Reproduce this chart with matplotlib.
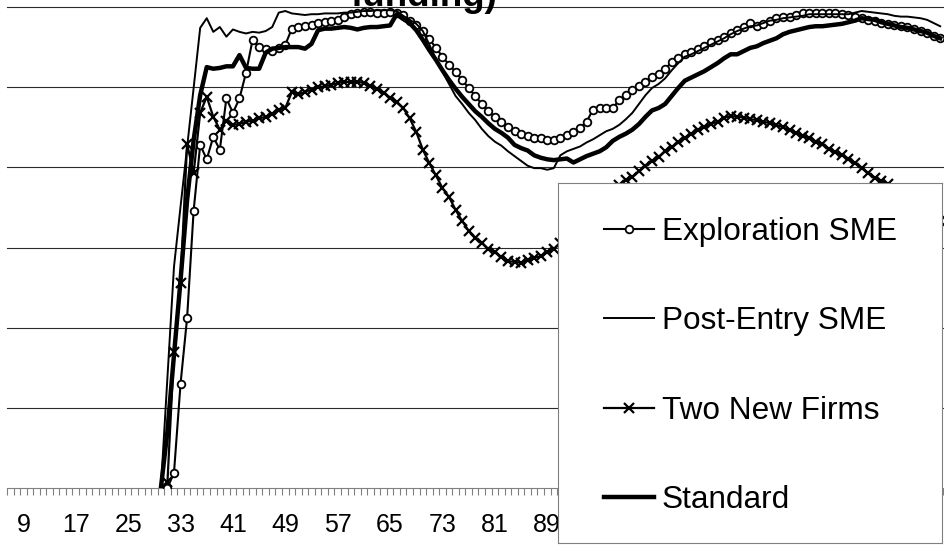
import numpy as np
import matplotlib
matplotlib.use("Agg")
import matplotlib.pyplot as plt

plt.rcParams["font.family"] = ["Liberation Sans", "DejaVu Sans"]

# periods that carry a label on the x axis (every 8th one)
label_periods = list(range(9, 150, 8))

series_names = ["Exploration SME", "Post-Entry SME", "Two New Firms", "Standard"]

# first period of each series, then one value per period
exploration_start = 31
exploration = [
    0, 1.9, 13.0, 21.2, 34.6, 42.8, 41.0, 43.8, 42.2, 48.6,
    46.8, 48.6, 51.8, 55.9, 55.0, 54.8, 54.5, 54.9, 55.3, 57.3,
    57.5, 57.6, 57.7, 58.0, 58.1, 58.2, 58.4, 58.7, 59.1, 59.3,
    59.4, 59.4, 59.3, 59.3, 59.4, 59.2, 59.0, 58.3, 57.8, 57.0,
    56.0, 54.9, 53.8, 52.8, 51.9, 50.9, 49.9, 48.9, 47.9, 47.0,
    46.3, 45.7, 45.0, 44.5, 44.2, 43.9, 43.7, 43.7, 43.4, 43.4,
    43.7, 44.0, 44.4, 44.9, 45.7, 47.2, 47.4, 47.4, 47.4, 48.4,
    49.0, 49.6, 50.1, 50.7, 51.3, 51.7, 52.3, 53.1, 53.6, 54.1,
    54.4, 54.7, 55.1, 55.6, 55.9, 56.3, 56.8, 57.1, 57.5, 58.0,
    57.6, 57.9, 58.3, 58.6, 58.7, 58.8, 59.0, 59.2, 59.3, 59.3,
    59.3, 59.3, 59.2, 59.1, 59.0, 58.8, 58.6, 58.4, 58.3, 58.0,
    57.9, 57.8, 57.6, 57.5, 57.2, 57.0, 56.8, 56.4, 56.1,
]

post_entry_start = 30
post_entry = [
    0, 13.8, 27.6, 35.1, 42.5, 49.9, 57.4, 58.6, 56.9, 57.5,
    56.3, 57.2, 56.9, 56.7, 56.9, 56.8, 57.0, 57.5, 59.3, 59.5,
    59.2, 59.1, 59.0, 59.1, 59.1, 59.2, 59.2, 59.2, 59.3, 59.3,
    59.4, 59.5, 59.5, 59.6, 59.6, 59.6, 59.5, 58.9, 58.4, 57.9,
    57.0, 55.3, 53.5, 51.9, 50.4, 48.9, 47.9, 46.8, 45.9, 44.8,
    43.9, 43.2, 42.7, 42.0, 41.4, 40.8, 40.2, 39.9, 39.9, 39.7,
    39.9, 41.5, 42.0, 42.3, 42.6, 43.1, 43.5, 44.0, 44.5, 44.8,
    45.3, 46.0, 46.8, 47.9, 49.0, 49.9, 50.4, 51.1, 52.1, 53.0,
    53.8, 54.1, 54.5, 54.9, 55.3, 55.7, 56.1, 56.6, 57.0, 57.3,
    57.6, 57.7, 58.0, 58.3, 58.4, 58.6, 58.7, 58.8, 58.9, 59.1,
    59.1, 59.1, 59.1, 59.1, 59.1, 59.1, 59.3, 59.5, 59.4, 59.3,
    59.2, 59.1, 58.9, 58.8, 58.8, 58.7, 58.6, 58.4, 58.0, 57.6,
]

two_firms_start = 31
two_firms = [
    0.7, 17.0, 25.6, 42.9, 39.3, 46.8, 48.8, 46.3, 44.7, 45.8,
    45.3, 45.4, 45.7, 45.8, 46.1, 46.3, 46.7, 47.2, 47.4, 49.4,
    49.1, 49.4, 49.7, 50.0, 50.1, 50.3, 50.5, 50.7, 50.6, 50.7,
    50.5, 50.1, 49.8, 49.3, 48.7, 48.1, 47.4, 46.1, 44.4, 42.2,
    40.5, 39.0, 37.4, 36.3, 34.7, 33.3, 32.1, 31.2, 30.6, 29.8,
    29.4, 28.8, 28.3, 28.2, 28.1, 28.4, 28.7, 28.9, 29.4, 29.8,
    30.6, 31.3, 32.2, 33.1, 34.1, 35.1, 35.9, 36.7, 37.3, 37.8,
    38.4, 38.8, 39.5, 40.2, 40.8, 41.3, 42.0, 42.5, 43.1, 43.7,
    44.2, 44.6, 45.0, 45.4, 45.7, 46.2, 46.4, 46.3, 46.2, 46.0,
    45.9, 45.7, 45.5, 45.3, 45.0, 44.6, 44.3, 43.9, 43.6, 43.2,
    42.9, 42.3, 41.9, 41.5, 41.1, 40.5, 39.9, 39.3, 38.7, 38.3,
    37.9, 37.3, 36.7, 36.0, 35.4, 34.8, 34.3, 33.8, 33.3,
]

standard_start = 30
standard = [
    0, 7.1, 16.6, 25.9, 35.9, 43.4, 49.0, 52.5, 52.3, 52.4,
    52.6, 52.6, 54.0, 52.4, 52.3, 52.3, 54.3, 54.8, 54.9, 55.0,
    55.0, 55.0, 54.8, 55.4, 57.1, 57.3, 57.3, 57.4, 57.5, 57.4,
    57.2, 57.4, 57.5, 57.5, 57.6, 57.7, 59.1, 58.5, 58.0, 57.1,
    55.9, 54.6, 53.4, 52.1, 50.9, 49.8, 48.8, 47.9, 47.0, 46.3,
    45.5, 44.8, 44.3, 43.7, 42.8, 42.4, 42.1, 41.5, 41.2, 41.0,
    40.9, 41.0, 41.1, 40.6, 41.0, 41.4, 41.7, 42.0, 42.5, 43.3,
    43.8, 44.2, 44.7, 45.4, 46.3, 47.1, 47.4, 47.9, 48.9, 49.9,
    50.8, 51.2, 51.6, 52.0, 52.5, 53.0, 53.6, 54.1, 54.1, 54.5,
    54.9, 55.1, 55.5, 55.8, 56.1, 56.6, 56.9, 57.1, 57.3, 57.5,
    57.6, 57.6, 57.7, 57.8, 57.9, 58.1, 58.3, 58.6, 58.5, 58.4,
    58.1, 57.9, 57.7, 57.5, 57.4, 57.2, 57.0, 56.8, 56.4, 56.1,
]

grid_levels = [10, 20, 30, 40, 50, 60]

# line styles, Excel black & white look
styles = [
    dict(color="black", lw=1.5, marker="o", ms=5.5, mfc="white", mec="black", mew=1.3),
    dict(color="black", lw=1.4),
    dict(color="black", lw=1.6, marker="x", ms=7, mew=1.6),
    dict(color="black", lw=3.2),
]

W, H = 945, 552
fig = plt.figure(figsize=(W / 100, H / 100), dpi=100)

# the chart is a crop of a bigger Excel chart, so the axes run past the edges
px_per_period = 6.59
x_at_9 = 23
left_px, right_px, top_px, bottom_px = 7, 950, 7, 488
ax = fig.add_axes([left_px / W, 1 - bottom_px / H,
                   (right_px - left_px) / W, (bottom_px - top_px) / H])
ax.set_xlim(9 + (left_px - x_at_9) / px_per_period, 9 + (right_px - x_at_9) / px_per_period)
ax.set_ylim(0, 60)

for gy in grid_levels:
    ax.axhline(gy, color="#2a2a2a", lw=0.8, zorder=0.5, clip_on=False)

all_series = [(exploration_start, exploration), (post_entry_start, post_entry),
              (two_firms_start, two_firms), (standard_start, standard)]
for (start, vals), name, st in zip(all_series, series_names, styles):
    x = np.arange(start, start + len(vals))
    ax.plot(x, vals, label=name, zorder=3, **st)

for side in ["left", "right", "top"]:
    ax.spines[side].set_visible(False)
ax.spines["bottom"].set_color("#808080")
ax.spines["bottom"].set_linewidth(0.8)

ax.set_yticks([])
ax.set_xticks(label_periods)
ax.set_xticklabels([str(p) for p in label_periods])
ax.set_xticks(np.arange(6.5, 151, 1), minor=True)
ax.tick_params(axis="x", which="major", length=0, pad=18, labelsize=18)
ax.tick_params(axis="x", which="minor", length=5, width=0.8, color="#808080", direction="out")

# title: only its last line is inside the crop
fig.text(423.5 / W, 1 - 6.5 / H, "funding)", ha="center", va="baseline",
         fontsize=26.5, fontweight="bold", zorder=10)

# legend box drawn on top of the plot, as in the Excel chart
lg_left, lg_top, lg_right, lg_bottom = 558, 183, 942, 543
lax = fig.add_axes([lg_left / W, 1 - lg_bottom / H,
                    (lg_right - lg_left) / W, (lg_bottom - lg_top) / H])
lax.set_xlim(0, lg_right - lg_left)
lax.set_ylim(lg_bottom - lg_top, 0)
lax.set_xticks([])
lax.set_yticks([])
lax.set_facecolor("white")
for sp in lax.spines.values():
    sp.set_color("#808080")
    sp.set_linewidth(0.8)

row_y = [46, 135, 225, 314]
for yy, name, st in zip(row_y, series_names, styles):
    lax.plot([46, 71, 96], [yy, yy, yy], markevery=[1], **st)
    lax.text(104, yy + 11.4, name, fontsize=22.7, va="baseline", ha="left")

fig.savefig("out.png", dpi=100)
